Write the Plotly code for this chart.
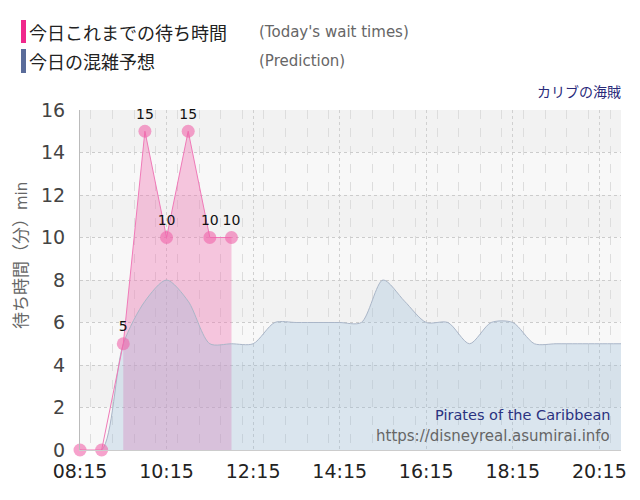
import pandas as pd
import plotly.graph_objects as go

# 実績（今日これまでの待ち時間）
actual_times = ['08:15', '08:45', '09:15', '09:45', '10:15', '10:45', '11:15', '11:45']
actual_wait = [0, 0, 5, 15, 10, 15, 10, 10]

# 予想（今日の混雑予想）
pred_times = ['08:15', '08:45', '09:15', '09:45', '10:15', '10:45', '11:15', '11:45',
              '12:15', '12:45', '13:15', '13:45', '14:15', '14:45', '15:15', '15:45',
              '16:15', '16:45', '17:15', '17:45', '18:15', '18:45', '19:15', '19:45',
              '20:15', '20:45']
pred_wait = [0, 0, 5, 7, 8, 7, 5, 5,
             5, 6, 6, 6, 6, 6, 8, 7,
             6, 6, 5, 6, 6, 5, 5, 5,
             5, 5]

x_ticks = ['08:15', '10:15', '12:15', '14:15', '16:15', '18:15', '20:15']
y_ticks = [0, 2, 4, 6, 8, 10, 12, 14, 16]

day = '2024-01-01 '
ax = pd.to_datetime([day + t for t in actual_times])
px_ = pd.to_datetime([day + t for t in pred_times])
tx = pd.to_datetime([day + t for t in x_ticks])

jp = 'Noto Sans CJK JP'
lat = 'Verdana, "DejaVu Sans", "Bitstream Vera Sans", sans-serif'

fig = go.Figure()

# 実績の塗り（値がつき始めてから）
start = next(i for i, v in enumerate(actual_wait) if v > 0)
fig.add_trace(go.Scatter(x=ax[start:], y=actual_wait[start:], mode='lines',
                         line=dict(width=0), fill='tozeroy',
                         fillcolor='rgba(240,120,180,0.4)', hoverinfo='skip'))

# 予想
fig.add_trace(go.Scatter(x=px_, y=pred_wait, mode='lines',
                         line=dict(color='#aab6c8', width=1, shape='spline', smoothing=0.8),
                         fill='tozeroy', fillcolor='rgba(150,185,215,0.3)'))

# 実績の線とマーカー
labels = [str(v) if v > 0 else '' for v in actual_wait]
fig.add_trace(go.Scatter(x=ax, y=actual_wait, mode='lines+markers+text',
                         line=dict(color='#f07ab8', width=1),
                         marker=dict(size=13, color='rgba(240,100,170,0.6)'),
                         text=labels, textposition='top center', cliponaxis=False,
                         textfont=dict(family=lat, size=14, color='#111')))

# 背景の縞
for i in range(0, 16, 4):
    fig.add_shape(type='rect', xref='paper', yref='y', x0=0, x1=1, y0=i + 2, y1=i + 4,
                  fillcolor='#f2f2f2', line_width=0, layer='below')
    fig.add_shape(type='rect', xref='paper', yref='y', x0=0, x1=1, y0=i, y1=i + 2,
                  fillcolor='#f8f8f8', line_width=0, layer='below')

# 凡例（手作り）
def px2x(p):
    return (p - 80) / 541

def px2y(p):
    return (450 - p) / 340

fig.add_shape(type='rect', xref='paper', yref='paper', x0=px2x(21), x1=px2x(26),
              y0=px2y(43), y1=px2y(20), fillcolor='#f0288c', line_width=0)
fig.add_shape(type='rect', xref='paper', yref='paper', x0=px2x(21), x1=px2x(26),
              y0=px2y(73), y1=px2y(49), fillcolor='#5a6c9a', line_width=0)

anns = [
    (27, 32, '今日これまでの待ち時間', jp, 18, '#222', 'left'),
    (27, 61, '今日の混雑予想', jp, 18, '#222', 'left'),
    (257, 32, "(Today's wait times)", lat, 15, '#666', 'left'),
    (257, 61, '(Prediction)', lat, 15, '#666', 'left'),
    (623, 91, 'カリブの海賊', jp, 14, '#2a2a7a', 'right'),
    (612, 415, 'Pirates of the Caribbean', lat, 14.5, '#2a3280', 'right'),
    (612, 436, 'https://disneyreal.asumirai.info', lat, 15, '#666', 'right'),
]
for x, y, t, f, s, c, a in anns:
    fig.add_annotation(x=px2x(x), y=px2y(y), xref='paper', yref='paper', text=t,
                       showarrow=False, xanchor=a, yanchor='middle',
                       font=dict(family=f, size=s, color=c))

fig.add_annotation(x=px2x(19), y=px2y(256), xref='paper', yref='paper',
                   text="待ち時間（分）<span style='font-size:15px;font-family:Verdana, DejaVu Sans'>min</span>",
                   textangle=-90, showarrow=False, xanchor='center', yanchor='middle',
                   font=dict(family=jp, size=17, color='#666'))

# ページ余白 8px の分だけ小さく取る
fig.update_layout(
    width=632, height=492,
    margin=dict(l=72, r=19, t=102, b=50),
    paper_bgcolor='white', plot_bgcolor='rgba(0,0,0,0)',
    showlegend=False,
    font=dict(family=lat),
)
fig.update_xaxes(
    range=[px_[0], px_[-1]],
    tickvals=tx, tickformat='%H:%M',
    tickfont=dict(family=lat, size=19, color='#222'),
    ticklabelstandoff=4,
    showgrid=True, gridcolor='#d0d0d0', griddash='dot',
    minor=dict(dtick=30 * 60 * 1000, showgrid=True, gridcolor='#dddddd', griddash='dash'),
    showline=True, linecolor='#cccccc', zeroline=False, ticks='', ticklen=0,
)
fig.update_yaxes(
    range=[0, 16], tickvals=y_ticks,
    tickfont=dict(family=lat, size=19, color='#444'),
    ticklabelstandoff=10,
    showgrid=True, gridcolor='#cccccc', griddash='dot',
    showline=True, linecolor='#bbbbbb', zeroline=False, ticks='',
)

fig.write_html('out.html')
